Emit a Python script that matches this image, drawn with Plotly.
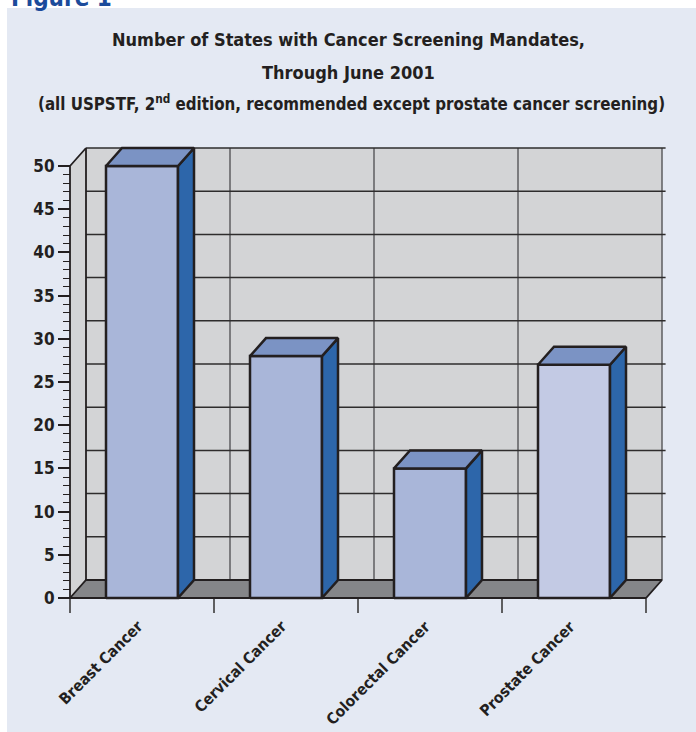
import plotly.graph_objects as go

# ---------------- data ----------------
categories = ["Breast Cancer", "Cervical Cancer", "Colorectal Cancer", "Prostate Cancer"]
values = [50, 28, 15, 27]
front_colors = ["#A9B6D9", "#A9B6D9", "#A9B6D9", "#C3CAE4"]
y_major_ticks = [0, 5, 10, 15, 20, 25, 30, 35, 40, 45, 50]
y_minor_ticks = [v for v in range(0, 51) if v % 5 != 0]
title_lines = ["Number of States with Cancer Screening Mandates,", "Through June 2001"]
subtitle = "(all USPSTF, 2<sup>nd</sup> edition, recommended except prostate cancer screening)"

# ---------------- layout geometry (pixels) ----------------
W, H = 696, 732
X0_PX, PX_PER_CAT = 70, 144.0      # x=-0.5 sits at pixel 70
Y0_PX, PX_PER_UNIT = 598, 8.64     # y=0 sits at pixel 598
PL, PR, PT, PB = 66, 669, 143, 602  # plot area in pixels
DX = 16 / PX_PER_CAT                # 3-D depth offset (category units)
DY = 18 / PX_PER_UNIT               # 3-D depth offset (value units)
YMAX = 50
BW = 0.25                           # half bar width

x_range = [-0.5 - (X0_PX - PL) / PX_PER_CAT, -0.5 + (PR - X0_PX) / PX_PER_CAT]
y_range = [-(PB - Y0_PX) / PX_PER_UNIT, (Y0_PX - PT) / PX_PER_UNIT]

DARK = "#231F20"
FONT = "DejaVu Sans Condensed, DejaVu Sans, sans-serif"

fig = go.Figure()

def poly(xs, ys, fill, line_color=None, lw=0):
    fig.add_trace(go.Scatter(
        x=list(xs) + [xs[0]], y=list(ys) + [ys[0]], mode="lines", fill="toself",
        fillcolor=fill, line=dict(color=line_color or fill, width=lw if line_color else 0),
        hoverinfo="skip", showlegend=False))

def seg(xs, ys, color, lw):
    fig.add_trace(go.Scatter(x=xs, y=ys, mode="lines", line=dict(color=color, width=lw),
                             hoverinfo="skip", showlegend=False))

n = len(categories)
xl, xr = -0.5, n - 0.5

poly([xl + DX, xr + DX, xr + DX, xl + DX], [DY, DY, YMAX + DY, YMAX + DY], "#D3D4D6")
poly([xl, xl + DX, xl + DX, xl], [0, DY, YMAX + DY, YMAX], "#D3D4D6")

for b in [i + 0.5 for i in range(n - 1)] + [xr]:
    seg([b + DX, b + DX], [DY, YMAX + DY], "#5E5E60", 1.5)
for v in y_major_ticks[1:]:
    seg([xl + DX, xr + DX + 0.025], [v + DY, v + DY], "#2E2C2D", 1.5)
seg([xl + DX, xl + DX], [DY, YMAX + DY], DARK, 1.8)
seg([xl, xl, xl + DX], [0, YMAX, YMAX + DY], DARK, 1.8)

poly([xl, xr, xr + DX, xl + DX], [0, 0, DY, DY], "#858689", DARK, 1.8)

for i, (v, fc) in enumerate(zip(values, front_colors)):
    a, b = i - BW, i + BW
    poly([a, b, b, a], [0, 0, v, v], fc, DARK, 2.5)
    poly([b, b + DX, b + DX, b], [0, DY, v + DY, v], "#2D66AA", DARK, 2.5)
    poly([a, b, b + DX, a + DX], [v, v, v + DY, v + DY], "#7B93C4", DARK, 2.5)

def f(size, color=DARK):
    return dict(family=FONT, size=size, color=color, weight="bold")

annotations = []
for i, c in enumerate(categories):
    annotations.append(dict(
        x=i, xref="x", y=1 - 615 / H, yref="paper", text=c, showarrow=False,
        textangle=-45, xanchor="right", yanchor="top", xshift=7, font=f(15.5)))

annotations.append(dict(x=348 / W, y=1 - 40 / H, xref="paper", yref="paper", text=title_lines[0],
                        showarrow=False, xanchor="center", yanchor="middle", font=f(18)))
annotations.append(dict(x=348 / W, y=1 - 73 / H, xref="paper", yref="paper", text=title_lines[1],
                        showarrow=False, xanchor="center", yanchor="middle", font=f(18)))
annotations.append(dict(x=351 / W, y=1 - 103 / H, xref="paper", yref="paper", text=subtitle,
                        showarrow=False, xanchor="center", yanchor="middle", font=f(16.8)))
annotations.append(dict(x=9 / W, y=1 - 14 / H, xref="paper", yref="paper", text="Figure 1",
                        showarrow=False, xanchor="left", yanchor="bottom", font=f(24, "#1B4B9B")))

fig.update_layout(
    width=W, height=H, autosize=False,
    margin=dict(l=0, r=0, t=0, b=0, pad=0, autoexpand=False),
    paper_bgcolor="white", plot_bgcolor="rgba(0,0,0,0)",
    showlegend=False,
    shapes=[dict(type="rect", xref="paper", yref="paper", x0=7 / W, x1=1.01, y0=-0.01,
                 y1=1 - 8 / H, fillcolor="#E4E9F3", line=dict(width=0), layer="below")],
    annotations=annotations,
    xaxis=dict(domain=[PL / W, PR / W], range=x_range, anchor="free", position=1 - Y0_PX / H,
               tickmode="array", tickvals=[i - 0.5 for i in range(n + 1)], ticks="outside",
               ticklen=14, tickwidth=1.5, tickcolor="#5E5E60", showticklabels=False,
               showgrid=False, zeroline=False, showline=False, fixedrange=True, automargin=False),
    yaxis=dict(domain=[1 - PB / H, 1 - PT / H], range=y_range, anchor="free", position=X0_PX / W,
               tickmode="array", tickvals=y_major_ticks, ticks="outside", ticklen=12,
               tickwidth=1.5, tickcolor=DARK,
               minor=dict(tickmode="array", tickvals=y_minor_ticks, ticks="outside", ticklen=7,
                          tickwidth=1.2, tickcolor=DARK, showgrid=False),
               tickfont=f(17),
               showgrid=False, zeroline=False, showline=False, fixedrange=True, automargin=False),
)

fig.write_html("out.html")
